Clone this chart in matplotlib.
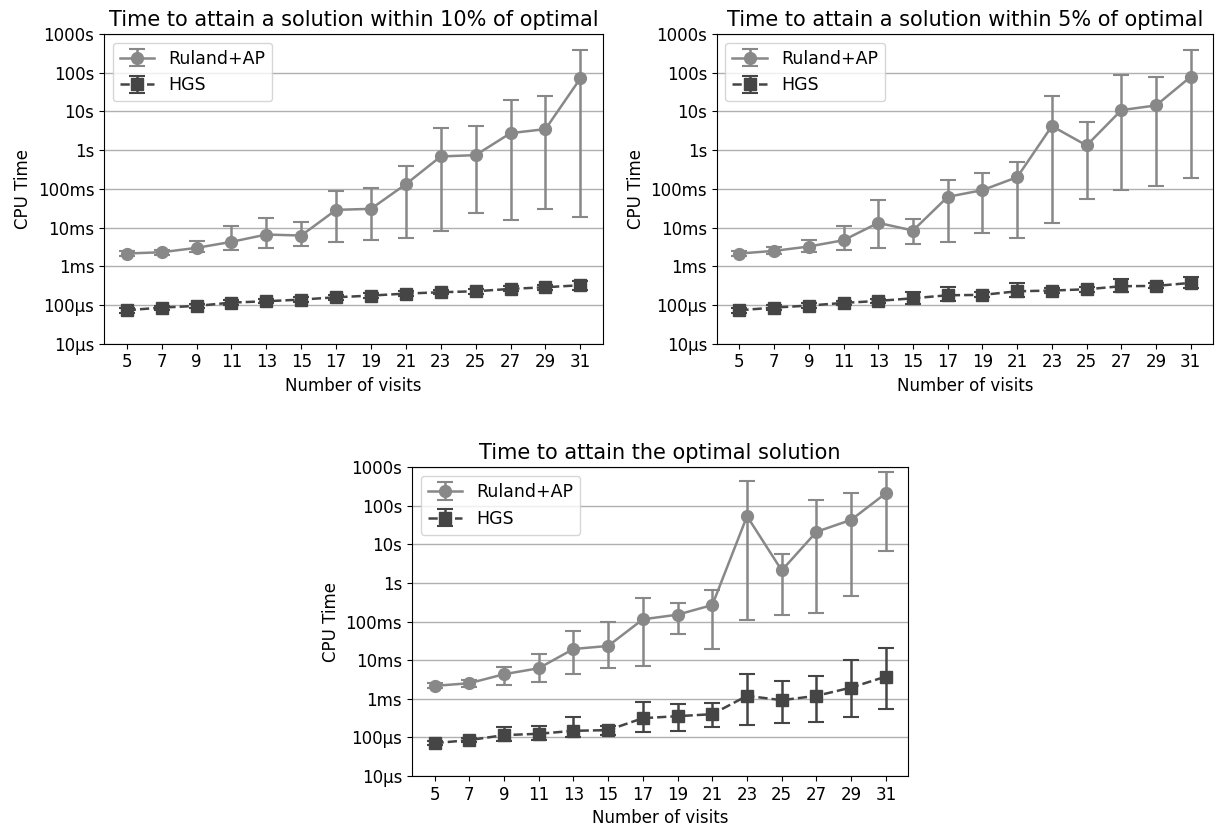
import matplotlib
matplotlib.use("Agg")
import matplotlib.pyplot as plt
from matplotlib.ticker import FixedLocator, FixedFormatter, NullLocator
import numpy as np

visits = [5, 7, 9, 11, 13, 15, 17, 19, 21, 23, 25, 27, 29, 31]

titles = ["Time to attain a solution within 10% of optimal",
          "Time to attain a solution within 5% of optimal",
          "Time to attain the optimal solution"]

# CPU time in seconds: mean, lower end and upper end of the error bar
# --- within 10% ---
ruland_10 = [0.00213, 0.00230, 0.00298, 0.00426, 0.00659, 0.00621, 0.0286,
             0.0304, 0.132, 0.686, 0.743, 2.75, 3.49, 71.3]
ruland_10_lo = [0.00189, 0.00200, 0.00230, 0.00270, 0.00298, 0.00342, 0.00435,
                0.00470, 0.00530, 0.0082, 0.0235, 0.0158, 0.0298, 0.0192]
ruland_10_hi = [0.00244, 0.00264, 0.00452, 0.0110, 0.0178, 0.0140, 0.0871,
                0.108, 0.378, 3.78, 4.09, 19.2, 24.4, 385]
hgs_10 = [7.28e-5, 8.53e-5, 9.42e-5, 1.148e-4, 1.245e-4, 1.374e-4, 1.578e-4,
          1.742e-4, 1.963e-4, 2.128e-4, 2.254e-4, 2.594e-4, 2.864e-4, 3.228e-4]
hgs_10_lo = [6.3e-5, 7.6e-5, 8.3e-5, 1.0e-4, 1.09e-4, 1.2e-4, 1.38e-4,
             1.52e-4, 1.72e-4, 1.86e-4, 1.97e-4, 2.25e-4, 2.5e-4, 2.5e-4]
hgs_10_hi = [8.3e-5, 9.6e-5, 1.07e-4, 1.32e-4, 1.42e-4, 1.57e-4, 1.8e-4,
             1.99e-4, 2.24e-4, 2.43e-4, 2.58e-4, 3.0e-4, 3.3e-4, 4.1e-4]

# --- within 5% ---
ruland_5 = [0.00213, 0.00249, 0.00323, 0.00470, 0.0132, 0.00836, 0.0621,
            0.0925, 0.200, 4.18, 1.32, 10.8, 14.3, 78.9]
ruland_5_lo = [0.00189, 0.00208, 0.00235, 0.00270, 0.00304, 0.00385, 0.00435,
               0.00743, 0.0053, 0.0132, 0.0562, 0.0925, 0.120, 0.185]
ruland_5_hi = [0.00244, 0.00323, 0.0047, 0.0110, 0.052, 0.0164, 0.174,
               0.264, 0.499, 24.9, 5.30, 87.1, 78.9, 385]
hgs_5 = [7.28e-5, 8.53e-5, 9.62e-5, 1.127e-4, 1.268e-4, 1.486e-4, 1.778e-4,
         1.816e-4, 2.254e-4, 2.35e-4, 2.54e-4, 3.04e-4, 3.10e-4, 3.71e-4]
hgs_5_lo = [6.3e-5, 7.5e-5, 8.3e-5, 9.8e-5, 1.1e-4, 1.04e-4, 1.245e-4,
            1.58e-4, 1.64e-4, 2.0e-4, 2.2e-4, 2.21e-4, 2.7e-4, 2.7e-4]
hgs_5_hi = [8.3e-5, 9.8e-5, 1.1e-4, 1.3e-4, 1.46e-4, 2.13e-4, 2.98e-4,
            2.1e-4, 3.71e-4, 2.75e-4, 2.95e-4, 4.8e-4, 3.6e-4, 5.4e-4]

# --- optimal ---
ruland_opt = [0.00217, 0.00254, 0.00435, 0.00621, 0.0196, 0.0235, 0.115,
              0.152, 0.270, 54.1, 2.13, 21.3, 43.5, 213]
ruland_opt_lo = [0.0019, 0.00205, 0.00235, 0.0028, 0.00452, 0.00634, 0.00728,
                 0.048, 0.0196, 0.108, 0.149, 0.171, 0.47, 6.73]
ruland_opt_hi = [0.00251, 0.00315, 0.00686, 0.0149, 0.0562, 0.098, 0.409,
                 0.304, 0.659, 444, 5.62, 143, 213, 743]
hgs_opt = [7.13e-5, 8.53e-5, 1.148e-4, 1.245e-4, 1.486e-4, 1.549e-4, 3.16e-4,
           3.56e-4, 4.01e-4, 1.197e-3, 9.25e-4, 1.197e-3, 1.963e-3, 3.78e-3]
hgs_opt_lo = [6.3e-5, 7.5e-5, 8.2e-5, 8.7e-5, 1.04e-4, 1.15e-4, 1.346e-4,
              1.486e-4, 1.816e-4, 2.08e-4, 2.39e-4, 2.54e-4, 3.29e-4, 5.41e-4]
hgs_opt_hi = [8.2e-5, 9.8e-5, 1.816e-4, 2.0e-4, 3.42e-4, 2.0e-4, 8.2e-4,
              7.43e-4, 7.73e-4, 4.35e-3, 2.98e-3, 3.94e-3, 1.0e-2, 2.08e-2]

ytick_vals = [1e-5, 1e-4, 1e-3, 1e-2, 1e-1, 1, 10, 100, 1000]
ytick_labels = ["10µs", "100µs", "1ms", "10ms", "100ms", "1s", "10s", "100s", "1000s"]

panels = [
    (titles[0], ruland_10, ruland_10_lo, ruland_10_hi, hgs_10, hgs_10_lo, hgs_10_hi),
    (titles[1], ruland_5, ruland_5_lo, ruland_5_hi, hgs_5, hgs_5_lo, hgs_5_hi),
    (titles[2], ruland_opt, ruland_opt_lo, ruland_opt_hi, hgs_opt, hgs_opt_lo, hgs_opt_hi),
]

positions = [
    [0.0855, 0.586, 0.410, 0.373],
    [0.589, 0.586, 0.408, 0.373],
    [0.3385, 0.065, 0.408, 0.372],
]

plt.rcParams["font.size"] = 12

fig = plt.figure(figsize=(12.17, 8.3), dpi=100)

def yerr(mean, lo, hi):
    mean = np.array(mean)
    return [mean - np.array(lo), np.array(hi) - mean]

for pos, (title, r, rlo, rhi, h, hlo, hhi) in zip(positions, panels):
    ax = fig.add_axes(pos)
    ax.errorbar(visits, r, yerr=yerr(r, rlo, rhi), color="#888888", marker="o",
                markersize=8.5, linewidth=1.8, linestyle="-", capsize=6,
                elinewidth=1.8, capthick=1.5, label="Ruland+AP")
    ax.errorbar(visits, h, yerr=yerr(h, hlo, hhi), color="#454545", marker="s",
                markersize=8.5, linewidth=1.8, linestyle="--", capsize=6,
                elinewidth=1.8, capthick=1.5, label="HGS")
    ax.set_yscale("log")
    ax.set_ylim(1e-5, 1e3)
    ax.yaxis.set_major_locator(FixedLocator(ytick_vals))
    ax.yaxis.set_major_formatter(FixedFormatter(ytick_labels))
    ax.yaxis.set_minor_locator(NullLocator())
    ax.set_xticks(visits)
    ax.set_xlim(3.7, 32.3)
    ax.grid(axis="y", color="#b0b0b0", linewidth=1)
    ax.set_axisbelow(True)
    ax.set_xlabel("Number of visits", fontsize=12)
    ax.set_ylabel("CPU Time", fontsize=12)
    ax.set_title(title, fontsize=15)
    ax.legend(loc="upper left", fontsize=12.5)

fig.savefig("out.png", dpi=100)
